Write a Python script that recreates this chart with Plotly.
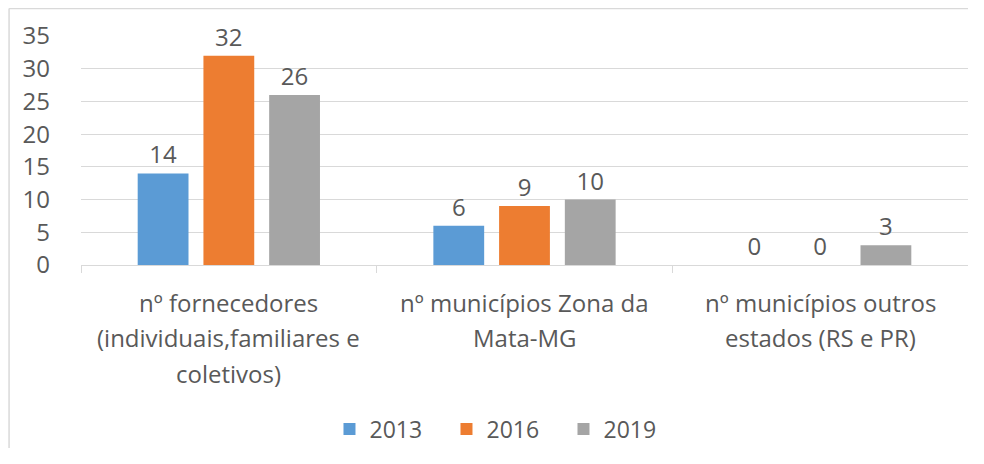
import plotly.graph_objects as go

categories = ["cat1", "cat2", "cat3"]
category_lines = [
    ["nº fornecedores", "(individuais,familiares e", "coletivos)"],
    ["nº municípios Zona da", "Mata-MG"],
    ["nº municípios outros", "estados (RS e PR)"],
]
series_names = ["2013", "2016", "2019"]
values_2013 = [14, 6, 0]
values_2016 = [32, 9, 0]
values_2019 = [26, 10, 3]
y_ticks = [0, 5, 10, 15, 20, 25, 30, 35]

colors = ["#5B9BD5", "#ED7D31", "#A5A5A5"]
TEXT = "#595959"
FONT = "Open Sans"
BORDER = "#D9D9D9"

fig = go.Figure()
for name, vals, col in zip(series_names, [values_2013, values_2016, values_2019], colors):
    fig.add_trace(go.Bar(
        x=categories, y=vals, name=name,
        marker=dict(color=col, line=dict(width=0)),
        text=[str(v) for v in vals], textposition="outside",
        textfont=dict(family=FONT, size=24, color=TEXT),
        cliponaxis=False,
    ))

annotations = []
for cat, lines in zip(categories, category_lines):
    for i, line in enumerate(lines):
        annotations.append(dict(
            x=cat, y=0, xref="x", yref="y", text=line, showarrow=False,
            yanchor="middle", xanchor="center", yshift=-(37 + i * 35.5),
            font=dict(family=FONT, size=24, color=TEXT),
        ))

fig.update_layout(
    width=960, height=440,
    margin=dict(l=73, r=0, t=28, b=183, autoexpand=False),
    paper_bgcolor="white", plot_bgcolor="white",
    barmode="group", bargap=0.333, bargroupgap=0.227,
    font=dict(family=FONT, color=TEXT),
    showlegend=True,
    legend=dict(orientation="h", x=0.478, xanchor="center", y=-0.716, yanchor="middle",
                font=dict(family=FONT, size=23, color=TEXT), itemwidth=30,
                entrywidth=72, entrywidthmode="pixels"),
    xaxis=dict(type="category", showticklabels=False, tickson="boundaries",
               ticks="outside", ticklen=7, tickcolor=BORDER, tickwidth=1,
               showline=True, linecolor=BORDER, linewidth=1, showgrid=False,
               range=[-0.5, 2.5], automargin=False),
    yaxis=dict(range=[0, 35], tickvals=y_ticks, showgrid=True, gridcolor=BORDER,
               gridwidth=1, zeroline=False, showline=False, ticks="",
               ticklabelstandoff=30, automargin=False,
               tickfont=dict(family=FONT, size=24, color=TEXT)),
    annotations=annotations,
    shapes=[
        dict(type="line", xref="paper", yref="paper",
             x0=-0.0811, x1=-0.0811, y0=-1.0, y1=1.12,
             line=dict(color=BORDER, width=1.5), layer="below"),
        dict(type="line", xref="paper", yref="paper",
             x0=-0.0811, x1=1.1, y0=1.12, y1=1.12,
             line=dict(color=BORDER, width=1.5), layer="below"),
    ],
)

fig.write_html("out.html")
